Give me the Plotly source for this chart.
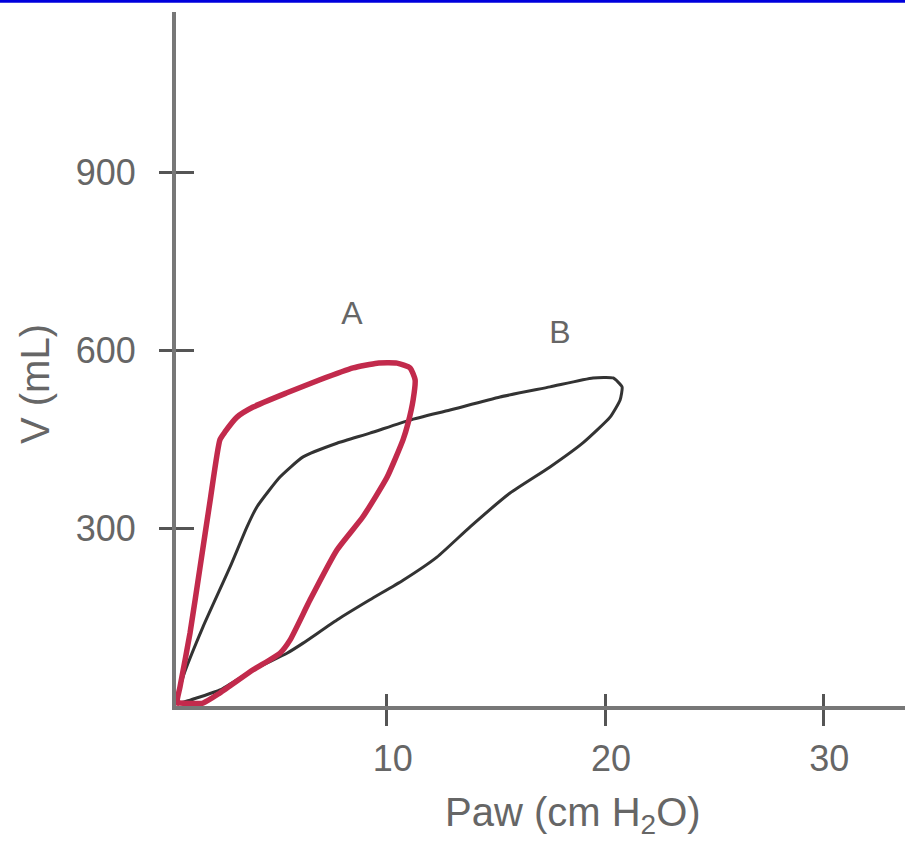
import plotly.graph_objects as go

# Loop A (red): pressure (cm H2O) and volume (mL)
a_paw = [0.39, 0.53, 0.99, 1.45, 1.91, 2.36, 2.59, 3.14, 3.88, 5.43, 6.94, 8.46, 9.56, 10.47,
         11.07, 11.30, 11.21, 10.98, 10.75, 10.02, 8.91, 7.72, 6.49, 5.57, 5.11, 3.88, 2.36,
         1.58, 0.53, 0.39]
a_vol = [5, 32, 123, 234, 346, 449, 462, 487, 504, 528, 550, 570, 578, 578,
         570, 550, 516, 477, 449, 386, 319, 263, 179, 111, 89, 61, 22,
         5, 5, 5]

# Loop B (dark)
b_paw = [0.39, 0.67, 1.58, 2.82, 3.60, 4.06, 5.11, 6.17, 7.72, 9.23, 11.06, 12.90, 15.19,
         17.48, 19.45, 20.37, 20.78, 20.69, 20.23, 19.00, 17.48, 15.65, 13.82, 12.30, 10.75,
         9.23, 7.72, 6.17, 5.43, 3.88, 2.36, 0.99, 0.39]
b_vol = [5, 49, 133, 234, 302, 336, 386, 420, 443, 460, 482, 499, 521,
         538, 553, 553, 538, 516, 487, 444, 403, 359, 302, 251, 212,
         179, 145, 106, 89, 61, 27, 10, 5]

x_ticks = [10, 20, 30]
y_ticks = [300, 600, 900]
labels = ["A", "B"]
label_paw = [8.41, 17.93]
label_vol = [658, 626]

X_RANGE = [0.348, 33.74]
Y_RANGE = [0, 1170]
GRAY = "#666666"
FONT = "Liberation Sans, Arial, sans-serif"

fig = go.Figure()
fig.add_trace(go.Scatter(x=b_paw, y=b_vol, mode="lines",
                         line=dict(color="#333333", width=3, shape="spline", smoothing=0.5),
                         hoverinfo="skip", showlegend=False))
fig.add_trace(go.Scatter(x=a_paw, y=a_vol, mode="lines",
                         line=dict(color="#c22a4c", width=5.5, shape="spline", smoothing=0.5),
                         hoverinfo="skip", showlegend=False))
fig.add_trace(go.Scatter(x=label_paw, y=label_vol, mode="text", text=labels,
                         textfont=dict(family=FONT, size=32, color=GRAY),
                         hoverinfo="skip", showlegend=False))
# trace to realise the overlay axes (inner tick halves)
fig.add_trace(go.Scatter(x=[None], y=[None], xaxis="x2", yaxis="y2", mode="lines",
                         hoverinfo="skip", showlegend=False))

common = dict(showgrid=False, zeroline=False, tickwidth=3, tickcolor="#555555")
fig.update_layout(
    width=905, height=841,
    margin=dict(l=176, r=0, t=12, b=135),
    paper_bgcolor="white", plot_bgcolor="white",
    xaxis=dict(range=X_RANGE, tickvals=x_ticks, ticks="outside", ticklen=16,
               showline=True, linecolor="#777777", linewidth=4,
               tickfont=dict(family=FONT, size=36, color=GRAY),
               ticklabelstandoff=2, ticklabelshift=6, **common),
    yaxis=dict(range=Y_RANGE, tickvals=y_ticks, ticks="outside", ticklen=13,
               showline=True, linecolor="#777777", linewidth=4,
               tickfont=dict(family=FONT, size=36, color=GRAY),
               ticklabelstandoff=16, **common),
    xaxis2=dict(range=X_RANGE, tickvals=x_ticks, ticks="inside", ticklen=12,
                overlaying="x", side="bottom", anchor="y2", showticklabels=False,
                showline=False, **common),
    yaxis2=dict(range=Y_RANGE, tickvals=y_ticks, ticks="inside", ticklen=18,
                overlaying="y", side="left", anchor="x2", showticklabels=False,
                showline=False, **common),
    annotations=[
        dict(text="Paw (cm H<sub>2</sub>O)", xref="paper", yref="paper", x=0.5446, y=-0.157,
             showarrow=False, font=dict(family=FONT, size=40, color=GRAY),
             xanchor="center", yanchor="middle"),
        dict(text="V (mL)", xref="paper", yref="paper", x=-0.1934, y=0.464,
             showarrow=False, textangle=-90, font=dict(family=FONT, size=40, color=GRAY),
             xanchor="center", yanchor="middle"),
    ],
    shapes=[dict(type="line", xref="paper", yref="paper", x0=-0.25, x1=1.0,
                 y0=1.0155, y1=1.0155, line=dict(color="#0000dd", width=3))],
)

fig.write_html("out.html", config={"displayModeBar": False},
               post_script="document.body.style.margin='0';")
